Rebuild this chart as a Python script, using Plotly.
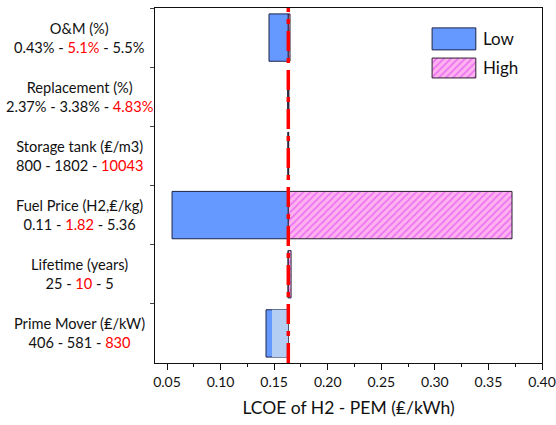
import plotly.graph_objects as go

# ---- data ----
categories = ["O&M", "Replacement", "Storage tank", "Fuel Price", "Lifetime", "Prime Mover"]
label_titles = ["O&M (%)", "Replacement (%)", "Storage tank (₤/m3)",
                "Fuel Price (H2,₤/kg)", "Lifetime (years)", "Prime Mover (₤/kW)"]
label_low = ["0.43%", "2.37%", "800", "0.11", "25", "406"]
label_mid = ["5.1%", "3.38%", "1802", "1.82", "10", "581"]
label_high = ["5.5%", "4.83%", "10043", "5.36", "5", "830"]
red_index = [1, 2, 2, 1, 1, 2]   # which of the three values is highlighted red

baseline = 0.1632
low_values = [0.1452, 0.1626, 0.1628, 0.0547, 0.1630, 0.1424]
high_values = [0.1648, 0.1638, 0.1636, 0.3720, 0.1658, 0.1634]
extra_low = [None, None, None, None, None, 0.1480]   # lighter overlay on Prime Mover

x_tick_values = [0.05, 0.10, 0.15, 0.20, 0.25, 0.30, 0.35, 0.40]
x_tick_labels = ["0.05", "0.10", "0.15", "0.20", "0.25", "0.30", "0.35", "0.40"]
x_range = [0.0388, 0.40]

fig = go.Figure()

fig.add_trace(go.Bar(
    y=categories, x=[v - baseline for v in low_values], base=baseline,
    orientation="h", width=0.8, name="Low", showlegend=False,
    marker=dict(color="#6699ff", line=dict(color="#1c2448", width=1)),
))
fig.add_trace(go.Bar(
    y=categories, x=[v - baseline for v in high_values], base=baseline,
    orientation="h", width=0.8, name="High", showlegend=False,
    marker=dict(color="#ffb3ee", line=dict(color="#2a1f30", width=1),
                pattern=dict(shape="/", fgcolor="#d836f5", bgcolor="#ffb3ee",
                             size=5, solidity=0.35)),
))
ex_cats = [c for c, v in zip(categories, extra_low) if v is not None]
ex_vals = [v - baseline for v in extra_low if v is not None]
fig.add_trace(go.Bar(
    y=ex_cats, x=ex_vals, base=baseline, orientation="h", width=0.8,
    showlegend=False, marker=dict(color="#b3cef2", line=dict(width=0)),
))

# legend drawn manually (large swatches) on an overlay axis
fig.add_trace(go.Scatter(
    x=[0.716, 0.829, 0.829, 0.716, 0.716], y=[0.944, 0.944, 0.882, 0.882, 0.944],
    xaxis="x2", yaxis="y2", mode="lines", fill="toself", fillcolor="#6699ff",
    line=dict(color="#1c2448", width=1), showlegend=False, hoverinfo="skip",
))
fig.add_trace(go.Scatter(
    x=[0.716, 0.829, 0.829, 0.716, 0.716], y=[0.859, 0.859, 0.803, 0.803, 0.859],
    xaxis="x2", yaxis="y2", mode="lines", fill="toself", fillcolor="#ffb3ee",
    fillpattern=dict(shape="/", fgcolor="#d836f5", bgcolor="#ffb3ee", size=5, solidity=0.35),
    line=dict(color="#2a1f30", width=1), showlegend=False, hoverinfo="skip",
))

annotations = []
for i, cat in enumerate(categories):
    vals = [label_low[i], label_mid[i], label_high[i]]
    parts = []
    for j, v in enumerate(vals):
        if j == red_index[i]:
            parts.append(f"<span style='color:#ff0000'>{v}</span>")
        else:
            parts.append(v)
    text = label_titles[i] + "<br>" + " - ".join(parts)
    annotations.append(dict(
        x=-0.194, xref="paper", y=cat, yref="y", text=text, showarrow=False,
        xanchor="center", yanchor="middle", align="center",
        font=dict(size=14.6, color="#111111", family="Lato"),
    ))
annotations.append(dict(x=0.843, y=0.913, xref="paper", yref="paper", text="Low",
                        showarrow=False, xanchor="left", yanchor="middle",
                        font=dict(size=17, color="#111111", family="Lato")))
annotations.append(dict(x=0.843, y=0.831, xref="paper", yref="paper", text="High",
                        showarrow=False, xanchor="left", yanchor="middle",
                        font=dict(size=17, color="#111111", family="Lato")))

fig.update_layout(
    width=556, height=425,
    margin=dict(l=155, r=14, t=8, b=62, autoexpand=False),
    paper_bgcolor="white", plot_bgcolor="white",
    barmode="overlay",
    font=dict(family="Lato", color="#111111"),
    showlegend=False,
    annotations=annotations,
    shapes=[dict(type="line", xref="x", yref="paper", x0=baseline, x1=baseline,
                 y0=0, y1=1, line=dict(color="#ff0000", width=3.5,
                                       dash="20px,7px,5px,7px"), layer="above")],
    xaxis=dict(range=x_range, tickmode="array", tickvals=x_tick_values,
               ticktext=x_tick_labels,
               ticks="outside", ticklen=6, tickcolor="#111111",
               showline=True, linecolor="#111111", linewidth=1.2, mirror=True,
               showgrid=False, zeroline=False, automargin=False,
               tickfont=dict(size=14, family="Lato"),
               minor=dict(tickmode="linear", dtick=0.025, tick0=0.025, ticks="outside",
                          ticklen=3, tickcolor="#111111", showgrid=False),
               title=dict(text="LCOE of H2 - PEM (₤/kWh)", font=dict(size=17.5, family="Lato"),
                          standoff=12)),
    yaxis=dict(type="category", categoryorder="array", categoryarray=categories,
               autorange=False, range=[5.5, -0.5], tickson="boundaries",
               showticklabels=False, ticks="outside", ticklen=4, tickcolor="#444444",
               showline=True, linecolor="#111111", linewidth=1.2, mirror=True,
               showgrid=False, zeroline=False, automargin=False),
    xaxis2=dict(range=[0, 1], overlaying="x", visible=False, fixedrange=True),
    yaxis2=dict(range=[0, 1], overlaying="y", visible=False, fixedrange=True),
)

fig.write_html("out.html", config={"displayModeBar": False},
               post_script="document.body.style.margin='0px';document.body.style.overflow='hidden';")
